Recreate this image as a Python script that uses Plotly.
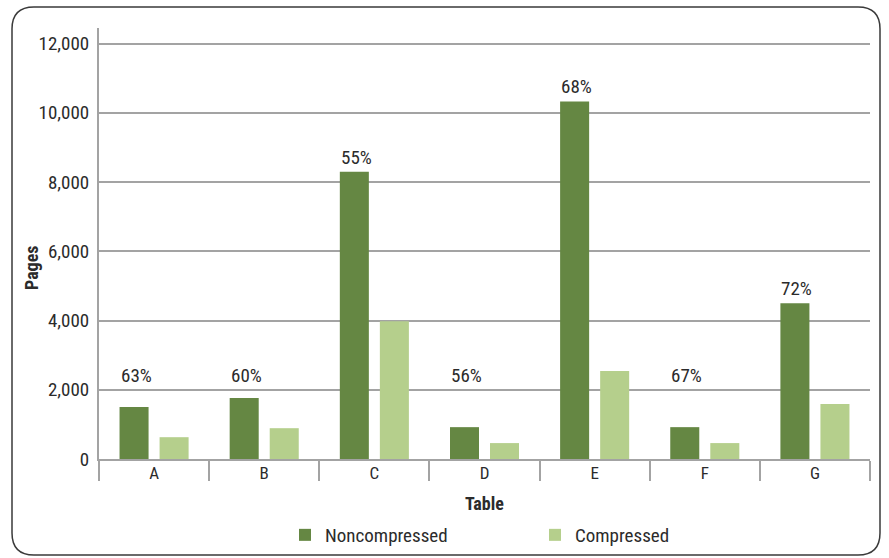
import plotly.graph_objects as go

categories = ["A", "B", "C", "D", "E", "F", "G"]
noncompressed = [1500, 1760, 8300, 920, 10330, 920, 4500]
compressed = [630, 890, 3980, 460, 2540, 460, 1590]
savings = ["63%", "60%", "55%", "56%", "68%", "67%", "72%"]
y_ticks = [0, 2000, 4000, 6000, 8000, 10000, 12000]
y_tick_labels = ["0", "2,000", "4,000", "6,000", "8,000", "10,000", "12,000"]

FONT = "Liberation Sans Narrow, Arial Narrow, Roboto Condensed, sans-serif"
TXT = "#2b2b2b"
DARK = "#658743"
LIGHT = "#b5cf8c"
GRID = "#a3a3a3"

W, H = 889, 558
ML, MR, MT, MB = 99, 19, 28, 99
PW, PH = W - ML - MR, H - MT - MB


def px(x):
    return (x - ML) / PW


def py(y):
    return (H - MB - y) / PH


fig = go.Figure()
fig.add_trace(go.Bar(name="Noncompressed", x=categories, y=noncompressed,
                     marker=dict(color=DARK, line=dict(width=0))))
fig.add_trace(go.Bar(name="Compressed", x=categories, y=compressed,
                     marker=dict(color=LIGHT, line=dict(width=0))))

# percentage labels above the noncompressed bars (floored near 2,000)
for c, v, s in zip(categories, noncompressed, savings):
    fig.add_annotation(x=c, y=max(v, 2000), text=s, showarrow=False,
                       xref="x", yref="y", xshift=-18, yshift=1,
                       yanchor="bottom", font=dict(family=FONT, size=19, color=TXT))

# axis titles
fig.add_annotation(x=0.5, y=py(504), xref="paper", yref="paper", text="<b>Table</b>",
                   showarrow=False, yanchor="middle",
                   font=dict(family=FONT, size=18, color=TXT))
fig.add_annotation(x=px(31), y=py(268), xref="paper", yref="paper",
                   text="<b>Pages</b>", showarrow=False, textangle=-90,
                   xanchor="center", yanchor="middle",
                   font=dict(family=FONT, size=18, color=TXT))

# rounded frame around the whole figure
L, R, T, B, r = 12, 880, 7, 555, 22
path = (f"M {px(L + r)},{py(T)} L {px(R - r)},{py(T)} Q {px(R)},{py(T)} {px(R)},{py(T + r)} "
        f"L {px(R)},{py(B - r)} Q {px(R)},{py(B)} {px(R - r)},{py(B)} "
        f"L {px(L + r)},{py(B)} Q {px(L)},{py(B)} {px(L)},{py(B - r)} "
        f"L {px(L)},{py(T + r)} Q {px(L)},{py(T)} {px(L + r)},{py(T)} Z")
fig.add_shape(type="path", path=path, xref="paper", yref="paper",
              line=dict(color="#3a3a3a", width=1.5), layer="above")

fig.update_layout(
    width=W, height=H,
    margin=dict(l=ML, r=MR, t=MT, b=MB, autoexpand=False),
    paper_bgcolor="white", plot_bgcolor="white",
    barmode="group", bargap=0.273, bargroupgap=0.275,
    font=dict(family=FONT, size=19, color=TXT),
    showlegend=True,
    legend=dict(orientation="h", x=px(285), xanchor="left", y=py(535),
                yanchor="middle", entrywidth=205, entrywidthmode="pixels",
                font=dict(family=FONT, size=19, color=TXT), bgcolor="rgba(0,0,0,0)"),
)
fig.update_xaxes(
    type="category", showgrid=False, showline=True, linecolor=GRID, linewidth=2,
    ticks="outside", tickson="boundaries", ticklen=20, tickwidth=2, tickcolor=GRID,
    ticklabelstandoff=-2, tickfont=dict(family=FONT, size=17, color=TXT),
    zeroline=False,
)
fig.update_yaxes(
    range=[0, 12450], tickvals=y_ticks, ticktext=y_tick_labels,
    showgrid=True, gridcolor=GRID, gridwidth=1.5, zeroline=False,
    showline=True, linecolor=GRID, linewidth=2, ticks="",
    ticklabelstandoff=4, tickfont=dict(family=FONT, size=19, color=TXT),
)

fig.write_html("out.html")
